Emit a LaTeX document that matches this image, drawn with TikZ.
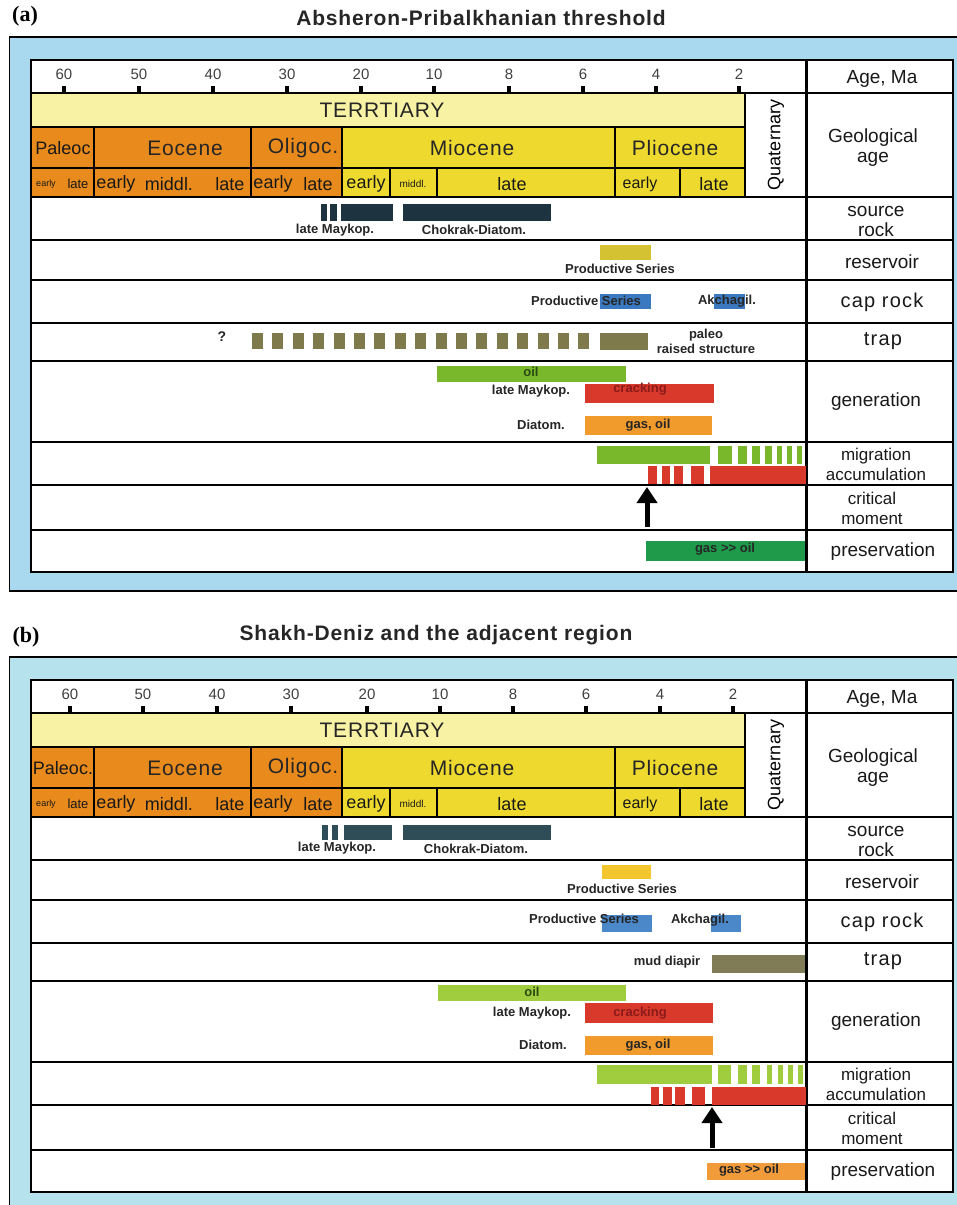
\documentclass[tikz,border=0pt]{standalone}
\usepackage{fontspec}
\setmainfont{Liberation Sans}
\newfontfamily\spacedfont[LetterSpace=4]{Liberation Sans}
\newfontfamily\widefont[LetterSpace=6]{Liberation Sans}
\newfontfamily\tagfont{Liberation Serif}
\usetikzlibrary{arrows.meta}

\definecolor{frameA}{HTML}{A9D9EF}
\definecolor{frameB}{HTML}{B5E2EC}
\definecolor{tyel}{HTML}{F7F2A4}
\definecolor{epyel}{HTML}{EEDA2E}
\definecolor{eporg}{HTML}{E88A1C}
\definecolor{srcA}{HTML}{1D3340}
\definecolor{srcB}{HTML}{2E4D57}
\definecolor{resA}{HTML}{D4C232}
\definecolor{resB}{HTML}{F3C62D}
\definecolor{capA}{HTML}{3A78C0}
\definecolor{capB}{HTML}{4B88CA}
\definecolor{trapA}{HTML}{7E7A4C}
\definecolor{trapB}{HTML}{807C55}
\definecolor{oilA}{HTML}{79B72B}
\definecolor{oilB}{HTML}{9FCD3E}
\definecolor{crackA}{HTML}{D8392B}
\definecolor{gasA}{HTML}{F19B2C}
\definecolor{presA}{HTML}{1F9A4B}
\definecolor{presB}{HTML}{F29B3A}
\definecolor{oiltxt}{HTML}{2A4A10}
\definecolor{cracktxt}{HTML}{8B1A1A}

% chart skeleton: #1 prefix, #2 frame colour, #3 ticks, #4 Paleocene text
\newcommand{\chartframe}[4]{%
  \draw[line width=1.5, fill=#2] (9.5,37) rectangle (990,591);
  \draw[line width=2.5, fill=white] (31,60) rectangle (953,572);
  % time table
  \foreach \xa/\ya/\xb/\yb/\clr in {31/93/745/127/tyel, 745/93/806/197/white,
      31/127/94/168/eporg, 94/127/251/168/eporg, 251/127/342/168/eporg,
      342/127/615/168/epyel, 615/127/745/168/epyel,
      31/168/94/197/eporg, 94/168/251/197/eporg, 251/168/342/197/eporg,
      342/168/390/197/epyel, 390/168/437/197/epyel, 437/168/615/197/epyel,
      615/168/680/197/epyel, 680/168/745/197/epyel}
    \draw[cellln, fill=\clr] (\xa,\ya) rectangle (\xb,\yb);
  \foreach \yy in {93,197,240,280,323,361,442,485,530}
    \draw[rowln] (31,\yy) -- (953,\yy);
  \draw[line width=3] (806,60) -- (806,572);
  % age scale
  \foreach \tx/\tl in {#3} {
    \fill (\tx-2,86) rectangle (\tx+2,93);
    \node[agenum] (#1-t\tl) at (\tx,74) {\tl};
  }
  \node[eptxt] (#1-ter) at (382,110) {TERRTIARY};
  \node[rotate=90, font=\fontsize{18}{18}\selectfont] (#1-quat) at (776,145) {Quaternary};
  \node[subtxt, font=\fontsize{18}{18}\selectfont] (#1-pal) at (63,148) {#4};
  \node[eptxt] (#1-eoc) at (185,148) {Eocene};
  \node[eptxt] (#1-oli) at (303,148) {Oligoc.};
  \node[eptxt] (#1-mio) at (472,148) {Miocene};
  \node[eptxt] (#1-pli) at (675,148) {Pliocene};
  \node[subtxt, font=\fontsize{9}{9}\selectfont] (#1-pal1) at (46,184) {early};
  \node[subtxt, font=\fontsize{13}{13}\selectfont] (#1-pal2) at (78,184) {late};
  \foreach \sx/\st/\nm in {116/early/eo1, 169/middl./eo2, 230/late/eo3,
      273/early/ol1, 318/late/ol2, 366/early/mi1, 512/late/mi3, 714/late/pl2}
    \node[subtxt] (#1-\nm) at (\sx,184) {\st};
  \node[subtxt, font=\fontsize{10}{10}\selectfont] (#1-mi2) at (413,184) {middl.};
  \node[subtxt, font=\fontsize{16}{16}\selectfont] (#1-pl1) at (640,184) {early};
  % row labels
  \node[rowlbl] (#1-lage) at (882,79) {Age, Ma};
  \node[rowlbl] (#1-lgeo) at (873,148) {Geological\\age};
  \node[rowlbl] (#1-lsrc) at (876,221) {source\\rock};
  \node[rowlbl] (#1-lres) at (882,262) {reservoir};
  \node[rowlbl, font=\widefont\fontsize{20}{20}\selectfont] (#1-lcap) at (882,302) {cap rock};
  \node[rowlbl, font=\widefont\fontsize{20}{20}\selectfont] (#1-ltrap) at (883,341) {trap};
  \node[rowlbl] (#1-lgen) at (876,402) {generation};
  \node[rowlbl, font=\fontsize{17}{20}\selectfont] (#1-lmig) at (876,464) {migration\\accumulation};
  \node[rowlbl, font=\fontsize{17}{20}\selectfont] (#1-lcrit) at (872,508) {critical\\moment};
  \node[rowlbl] (#1-lpres) at (883,552) {preservation};
}

\begin{document}
\begin{tikzpicture}[x=1pt, y=-1pt,
    cellln/.style={line width=1.5},
    rowln/.style={line width=1.8},
    agenum/.style={font=\fontsize{15}{15}\selectfont, text=black!75, inner sep=0},
    eptxt/.style={font=\spacedfont\fontsize{21}{21}\selectfont, text=black!85, inner sep=0},
    subtxt/.style={font=\fontsize{18}{18}\selectfont, text=black!90, inner sep=0},
    rowlbl/.style={font=\fontsize{19}{20}\selectfont, align=center, inner sep=0, text=black!90},
    barlbl/.style={font=\bfseries\fontsize{13}{13}\selectfont, inner sep=0, text=black!85},
    tagtxt/.style={font=\tagfont\bfseries\fontsize{22}{22}\selectfont, inner sep=0},
    ttltxt/.style={font=\spacedfont\bfseries\fontsize{21}{21}\selectfont, inner sep=0, text=black!85},
    critarr/.style={line width=5, -{Triangle[width=20pt, length=16pt]}}
    ]
\useasboundingbox (0,0) rectangle (957,1205);
\clip (0,0) rectangle (957,1205);

% ---------- (a) ----------
\begin{scope}
  \node[tagtxt] (a-tag) at (25,16) {(a)};
  \node[ttltxt] (a-ttl) at (481,18) {Absheron-Pribalkhanian threshold};
  \chartframe{a}{frameA}{64/60, 139/50, 213/40, 287/30, 361/20, 434/10, 509/8, 583/6, 656/4, 739/2}{Paleoc}
  % source rock
  \foreach \xa/\xb in {321/327, 330/337, 341/393, 403/551}
    \fill[srcA] (\xa,204) rectangle (\xb,221);
  \node[barlbl] (a-maik) at (335,230) {late Maykop.};
  \node[barlbl] (a-chok) at (474,230) {Chokrak-Diatom.};
  % reservoir
  \fill[resA] (600,245) rectangle (651,260);
  \node[barlbl] (a-prod1) at (620,269) {Productive Series};
  % cap rock
  \fill[capA] (600,294) rectangle (651,309);
  \fill[capA] (714,294) rectangle (745,309);
  \node[barlbl] (a-prod2) at (586,301) {Productive Series};
  \node[barlbl] (a-akch) at (727,301) {Akchagil.};
  % trap
  \node[barlbl, font=\bfseries\fontsize{14}{14}\selectfont] (a-qm) at (222,337) {?};
  \foreach \i in {0,...,16}
    \fill[trapA] ({252+20.4*\i},333) rectangle ({263+20.4*\i},349);
  \fill[trapA] (600,333) rectangle (648,350);
  \node[barlbl, align=center, font=\bfseries\fontsize{13}{15}\selectfont] (a-paleo) at (706,341) {paleo\\raised structure};
  % generation
  \fill[oilA] (437,366) rectangle (626,382);
  \node[barlbl, text=oiltxt] (a-oil) at (531,372) {oil};
  \fill[crackA] (585,384) rectangle (714,403);
  \node[barlbl, text=cracktxt] (a-crack) at (640,389) {cracking};
  \node[barlbl] (a-maik2) at (531,391) {late Maykop.};
  \fill[gasA] (585,416) rectangle (712,435);
  \node[barlbl] (a-gas) at (648,425) {gas, oil};
  \node[barlbl] (a-diat) at (541,425) {Diatom.};
  % migration, accumulation
  \fill[oilA] (597,446) rectangle (710,464);
  \foreach \xa/\xb in {718/732, 738/747, 752/760, 765/772, 777/782, 787/792, 797/802}
    \fill[oilA] (\xa,446) rectangle (\xb,464);
  \foreach \xa/\xb in {648/657, 662/670, 674/683, 691/704, 710/806}
    \fill[crackA] (\xa,466) rectangle (\xb,484);
  % critical moment
  \coordinate (a-cm0) at (647,527);
  \coordinate (a-cm1) at (647,487);
  \draw[critarr] (a-cm0) -- (a-cm1);
  % preservation
  \fill[presA] (646,541) rectangle (805,561);
  \node[barlbl] (a-pres) at (725,549) {gas >{}> oil};
\end{scope}

% ---------- (b) ----------
\begin{scope}[shift={(0,620)}]
  \node[tagtxt] (b-tag) at (26,17) {(b)};
  \node[ttltxt] (b-ttl) at (436,15) {Shakh-Deniz and the adjacent region};
  \chartframe{b}{frameB}{70/60, 143/50, 217/40, 291/30, 367/20, 440/10, 513/8, 586/6, 660/4, 733/2}{Paleoc.}
  % source rock
  \foreach \xa/\xb in {322/328, 332/338, 344/392, 403/551}
    \fill[srcB] (\xa,205) rectangle (\xb,220);
  \node[barlbl] (b-maik) at (337,228) {late Maykop.};
  \node[barlbl] (b-chok) at (476,229) {Chokrak-Diatom.};
  % reservoir
  \fill[resB] (602,245) rectangle (651,259);
  \node[barlbl] (b-prod1) at (622,269) {Productive Series};
  % cap rock
  \fill[capB] (602,295) rectangle (652,312);
  \fill[capB] (711,295) rectangle (741,312);
  \node[barlbl] (b-prod2) at (584,299) {Productive Series};
  \node[barlbl] (b-akch) at (700,300) {Akchagil.};
  % trap
  \node[barlbl] (b-mud) at (667,342) {mud diapir};
  \fill[trapB] (712,335) rectangle (805,353);
  % generation
  \fill[oilB] (438,365) rectangle (626,381);
  \node[barlbl, text=oiltxt] (b-oil) at (532,372) {oil};
  \fill[crackA] (585,383) rectangle (713,403);
  \node[barlbl, text=cracktxt] (b-crack) at (640,393) {cracking};
  \node[barlbl] (b-maik2) at (532,393) {late Maykop.};
  \fill[gasA] (585,416) rectangle (713,435);
  \node[barlbl] (b-gas) at (648,425) {gas, oil};
  \node[barlbl] (b-diat) at (543,425) {Diatom.};
  % migration, accumulation
  \fill[oilB] (597,445) rectangle (712,464);
  \foreach \xa/\xb in {718/731, 738/747, 752/760, 767/772, 778/783, 788/793, 798/803}
    \fill[oilB] (\xa,445) rectangle (\xb,464);
  \foreach \xa/\xb in {651/659, 663/672, 675/685, 692/705, 712/806}
    \fill[crackA] (\xa,467) rectangle (\xb,485);
  % critical moment
  \coordinate (b-cm0) at (712,528);
  \coordinate (b-cm1) at (712,487);
  \draw[critarr] (b-cm0) -- (b-cm1);
  % preservation
  \fill[presB] (707,543) rectangle (805,560);
  \node[barlbl] (b-pres) at (749,550) {gas >{}> oil};
\end{scope}
\end{tikzpicture}
\end{document}
